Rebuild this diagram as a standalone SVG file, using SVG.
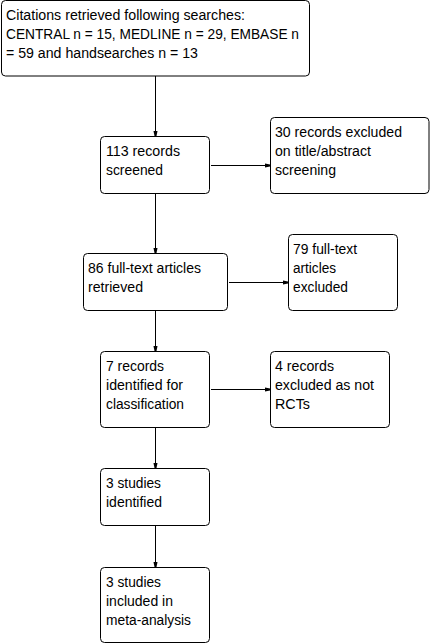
<svg xmlns="http://www.w3.org/2000/svg" width="430" height="643" viewBox="0 0 430 643">
<style>
.box{fill:#fff;stroke:#000;stroke-width:1}
.t{font-family:"Liberation Sans",Arial,sans-serif;font-size:14px;fill:#000}
.c{stroke:#000;stroke-width:1;fill:none}
</style>
<defs>
<marker id="ah" markerWidth="8" markerHeight="6" refX="7" refY="3" orient="auto" markerUnits="userSpaceOnUse">
<path d="M2,1 L7,2 L7,4 L2,5 Z" fill="#000"/>
</marker>
</defs>
<rect width="430" height="643" fill="#fff"/>
<g id="connectors">
<line class="c" x1="155.5" y1="76" x2="155.5" y2="136" marker-end="url(#ah)"/>
<line class="c" x1="211" y1="165.5" x2="270" y2="165.5" marker-end="url(#ah)"/>
<line class="c" x1="155.5" y1="193" x2="155.5" y2="253" marker-end="url(#ah)"/>
<line class="c" x1="229" y1="282.5" x2="288" y2="282.5" marker-end="url(#ah)"/>
<line class="c" x1="155.5" y1="310" x2="155.5" y2="351" marker-end="url(#ah)"/>
<line class="c" x1="211" y1="389.5" x2="270" y2="389.5" marker-end="url(#ah)"/>
<line class="c" x1="155.5" y1="427" x2="155.5" y2="468" marker-end="url(#ah)"/>
<line class="c" x1="155.5" y1="525" x2="155.5" y2="567" marker-end="url(#ah)"/>
</g>
<g id="n1">
<rect class="box" x="1.5" y="0.5" width="308" height="75.5" rx="4"/>
<text class="t" x="6" y="20" textLength="239" lengthAdjust="spacingAndGlyphs">Citations retrieved following searches:</text>
<text class="t" x="6" y="39" textLength="293" lengthAdjust="spacingAndGlyphs">CENTRAL n = 15, MEDLINE n = 29, EMBASE n</text>
<text class="t" x="6" y="58" textLength="192" lengthAdjust="spacingAndGlyphs">= 59 and handsearches n = 13</text>
</g>
<g id="n2">
<rect class="box" x="100.5" y="136.5" width="109" height="57" rx="4"/>
<text class="t" x="106" y="156" textLength="74" lengthAdjust="spacingAndGlyphs">113 records</text>
<text class="t" x="106" y="175" textLength="57" lengthAdjust="spacingAndGlyphs">screened</text>
</g>
<g id="n3">
<rect class="box" x="270.5" y="117.5" width="158.5" height="76" rx="4"/>
<text class="t" x="275" y="137" textLength="127" lengthAdjust="spacingAndGlyphs">30 records excluded</text>
<text class="t" x="275" y="156" textLength="96" lengthAdjust="spacingAndGlyphs">on title/abstract</text>
<text class="t" x="275" y="175" textLength="61" lengthAdjust="spacingAndGlyphs">screening</text>
</g>
<g id="n4">
<rect class="box" x="83.5" y="253.5" width="144" height="57" rx="4"/>
<text class="t" x="88" y="273" textLength="113" lengthAdjust="spacingAndGlyphs">86 full-text articles</text>
<text class="t" x="88" y="292" textLength="55" lengthAdjust="spacingAndGlyphs">retrieved</text>
</g>
<g id="n5">
<rect class="box" x="288.5" y="234.5" width="109" height="76" rx="4"/>
<text class="t" x="293" y="254" textLength="64" lengthAdjust="spacingAndGlyphs">79 full-text</text>
<text class="t" x="293" y="273" textLength="43" lengthAdjust="spacingAndGlyphs">articles</text>
<text class="t" x="293" y="292" textLength="55" lengthAdjust="spacingAndGlyphs">excluded</text>
</g>
<g id="n6">
<rect class="box" x="100.5" y="351.5" width="109" height="76" rx="4"/>
<text class="t" x="106" y="371" textLength="58" lengthAdjust="spacingAndGlyphs">7 records</text>
<text class="t" x="106" y="390" textLength="77" lengthAdjust="spacingAndGlyphs">identified for</text>
<text class="t" x="106" y="409" textLength="78" lengthAdjust="spacingAndGlyphs">classification</text>
</g>
<g id="n7">
<rect class="box" x="270.5" y="351.5" width="119" height="76" rx="4"/>
<text class="t" x="275" y="371" textLength="59" lengthAdjust="spacingAndGlyphs">4 records</text>
<text class="t" x="275" y="390" textLength="99" lengthAdjust="spacingAndGlyphs">excluded as not</text>
<text class="t" x="275" y="409" textLength="35" lengthAdjust="spacingAndGlyphs">RCTs</text>
</g>
<g id="n8">
<rect class="box" x="100.5" y="468.5" width="109" height="57" rx="4"/>
<text class="t" x="106" y="488" textLength="55" lengthAdjust="spacingAndGlyphs">3 studies</text>
<text class="t" x="106" y="507" textLength="56" lengthAdjust="spacingAndGlyphs">identified</text>
</g>
<g id="n9">
<rect class="box" x="100.5" y="567.5" width="109" height="75" rx="4"/>
<text class="t" x="106" y="587" textLength="55" lengthAdjust="spacingAndGlyphs">3 studies</text>
<text class="t" x="106" y="606" textLength="67" lengthAdjust="spacingAndGlyphs">included in</text>
<text class="t" x="106" y="625" textLength="85" lengthAdjust="spacingAndGlyphs">meta-analysis</text>
</g>
</svg>
